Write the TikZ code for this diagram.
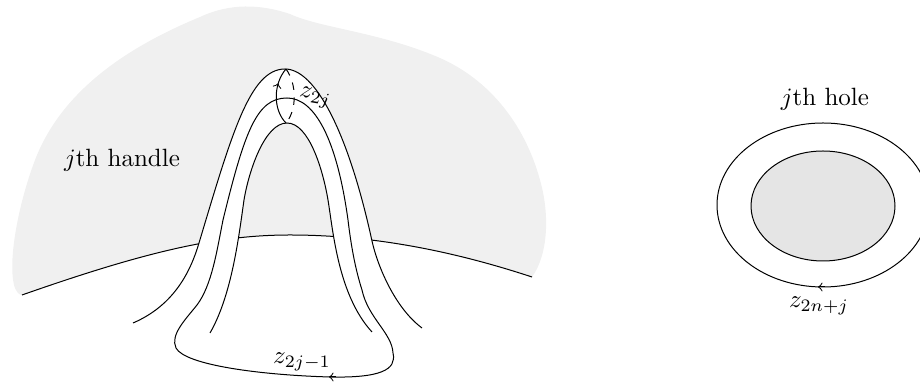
\documentclass[tikz,border=0pt]{standalone}
\usetikzlibrary{decorations.markings}
\begin{document}
\begin{tikzpicture}[x=0.4pt,y=-0.4pt,
  blob/.style={fill=black!6},
  holefill/.style={fill=black!10},
  curve/.style={draw=black,line width=0.4pt},
  tipline/.style={-to,line width=0.4pt},
  lbl/.style={inner sep=1pt,font=\normalsize}]
\useasboundingbox (0,0) rectangle (920,384);
% gray sheet
\fill[blob] (532,277) .. controls (548,255) and (550,215) .. (540,180)
  .. controls (525,125) and (490,80) .. (440,58)
  .. controls (380,32) and (320,28) .. (290,14)
  .. controls (260,4) and (230,3) .. (200,17)
  .. controls (120,50) and (60,95) .. (35,160)
  .. controls (18,205) and (8,260) .. (14,285)
  .. controls (16,292) and (19,295) .. (22,295)
  .. controls (150,250) and (220,235) .. (290,235) .. controls (370,235) and (450,250) .. (532,277) -- cycle;
% horizon
\draw[curve] (22,295) .. controls (150,250) and (220,235) .. (290,235) .. controls (370,235) and (450,250) .. (532,277);
% tube interior white
\fill[white] (133,323) .. controls (175,305) and (191,270) .. (199,243)
  .. controls (232,133) and (250,69) .. (285,69)
  .. controls (315,69) and (348,131) .. (372,241)
  .. controls (377.5,266) and (395,308) .. (422,328)
  -- (372,332) .. controls (338,295) and (333,230) .. (328,200)
  .. controls (323,170) and (309,123) .. (287,123)
  .. controls (265,123) and (249,170) .. (244,200)
  .. controls (239,235) and (232,295) .. (210,333) -- cycle;
% outer arch
\draw[curve] (133,323) .. controls (175,305) and (191,270) .. (199,243)
  .. controls (232,133) and (250,69) .. (285,69)
  .. controls (315,69) and (348,131) .. (372,241)
  .. controls (377.5,266) and (395,308) .. (422,328);
% inner arch
\draw[curve] (210,333) .. controls (232,295) and (239,235) .. (244,200)
  .. controls (249,170) and (265,123) .. (287,123)
  .. controls (309,123) and (323,170) .. (328,200)
  .. controls (333,230) and (338,295) .. (372,332);
% middle arch and loop z_{2j-1}
\draw[curve] (287,98) .. controls (257,98) and (245,130) .. (223,220)
  .. controls (217,250) and (212,285) .. (197,305)
  .. controls (185,320) and (170,335) .. (176,348)
  .. controls (185,365) and (260,375) .. (330,377)
  .. controls (380,378) and (397,370) .. (393,353)
  .. controls (392,333) and (368,318) .. (362,290)
  .. controls (355,268) and (351,245) .. (348,220)
  .. controls (337,140) and (315,98) .. (287,98) -- cycle;
\draw[tipline] (336,377) -- (329,377);
% meridian z_{2j}
\draw[curve,postaction={decorate},decoration={markings,mark=at position 0.72 with {\arrow{to}}}]
  (286,123) .. controls (273,110) and (273,84) .. (286,69);
\draw[curve,dashed] (286,69) .. controls (297,84) and (297,110) .. (286,123);
% labels
\node[lbl] (handle) at (122,160) {$j$th handle};
\node[lbl,rotate=-10] (z2j) at (315,98) {$z_{2j}$};
\node[lbl] (z2jm1) at (302,362) {$z_{2j-1}$};
% hole
\draw[curve] (823,205) ellipse [x radius=42.4pt, y radius=32.8pt];
\filldraw[holefill,draw=black,line width=0.4pt] (823,206) ellipse [x radius=28.8pt, y radius=22pt];
\draw[tipline] (825,287) -- (818,287);
\node[lbl] (hole) at (825,99) {$j$th hole};
\node[lbl] (z2nj) at (819,306) {$z_{2n+j}$};
\end{tikzpicture}
\end{document}
